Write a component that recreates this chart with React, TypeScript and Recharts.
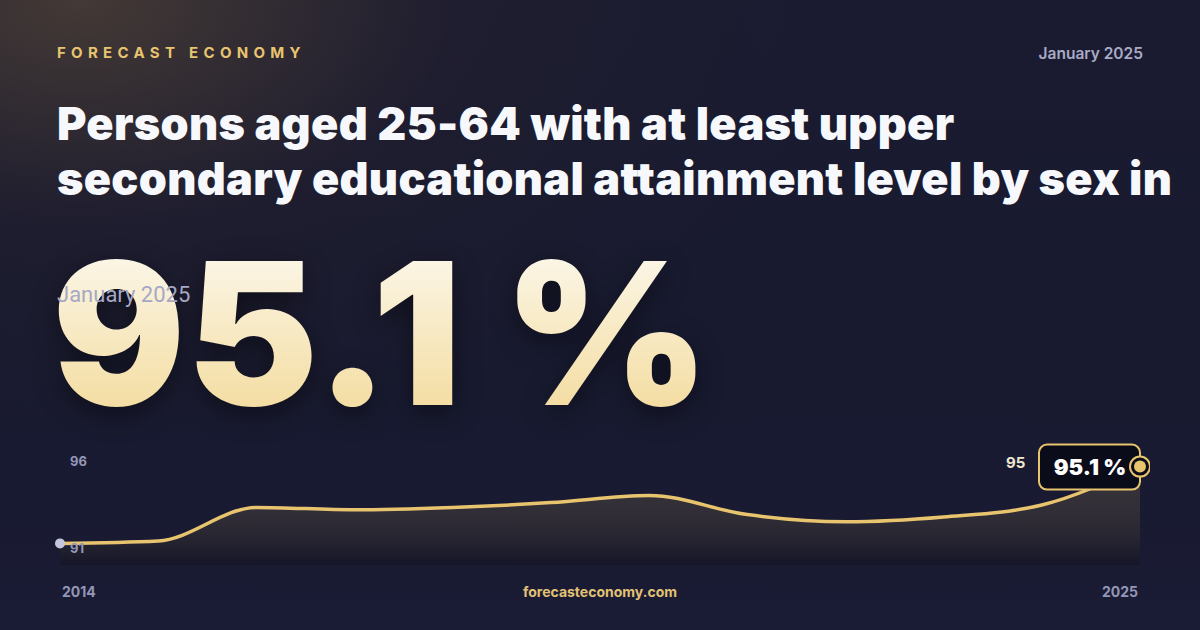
import React from 'react';
import { AreaChart, Area, XAxis, YAxis } from 'recharts';

const years = ['2014', '2015', '2016', '2017', '2018', '2019', '2020', '2021', '2022', '2023', '2024', '2025'];
const values = [91.9, 92.0, 93.4, 93.3, 93.4, 93.6, 93.9, 93.1, 92.8, 93.0, 93.5, 95.1];
const yDomain = [91, 96];
const yTickLabels = ['96', '91'];

const data = years.map((year, i) => ({ year, value: values[i] }));

const GOLD = '#e8c46f';
const MUTED = '#9597b6';

const renderDot = (props: any) => {
  const { cx, cy, index } = props;
  if (index === 0) {
    return <circle key="first" cx={cx} cy={cy} r={5} fill="#c3c6dd" />;
  }
  if (index === data.length - 1) {
    return (
      <g key="last">
        <rect x={cx - 101} y={cy - 22} width={101} height={45} rx={8} fill="#0a0c19" stroke={GOLD} strokeWidth={2} />
        <text x={cx - 50} y={cy + 8} textAnchor="middle" fill="#ffffff" fontSize={22} fontWeight={900} fontFamily="Inter">
          {values[values.length - 1].toFixed(1)} %
        </text>
        <circle cx={cx} cy={cy} r={10} fill="#0a0c19" stroke={GOLD} strokeWidth={2} />
        <circle cx={cx} cy={cy} r={6} fill={GOLD} />
      </g>
    );
  }
  return <g key={`d${index}`} />;
};

export default function App() {
  return (
    <div
      style={{
        position: 'absolute',
        left: 0,
        top: 0,
        width: 1200,
        height: 630,
        overflow: 'hidden',
        fontFamily: 'Inter, sans-serif',
        background:
          'radial-gradient(ellipse 750px 450px at 80px 0px, rgba(85,70,55,0.7) 0%, rgba(40,34,44,0.35) 50%, rgba(24,25,46,0) 100%), linear-gradient(180deg, #1a1b31 0%, #181a30 60%, #1a1b34 100%)',
      }}
    >
      <div style={{ position: 'absolute', left: 57, top: 43, color: GOLD, fontSize: 15, fontWeight: 700, letterSpacing: 5.3 }}>
        FORECAST ECONOMY
      </div>
      <div style={{ position: 'absolute', right: 57, top: 44, color: '#a9abc6', fontSize: 15.5, fontWeight: 600 }}>
        January 2025
      </div>
      <div
        style={{
          position: 'absolute',
          left: 57,
          top: 96,
          width: 1140,
          color: '#f7f8fc',
          fontSize: 45,
          fontWeight: 900,
          lineHeight: '55px',
          letterSpacing: 0.3,
          whiteSpace: 'nowrap',
        }}
      >
        Persons aged 25-64 with at least upper
        <br />
        secondary educational attainment level by sex in
      </div>
      <div
        style={{
          position: 'absolute',
          left: 52,
          top: 218,
          fontSize: 198,
          fontWeight: 900,
          lineHeight: '230px',
          letterSpacing: 1,
          whiteSpace: 'nowrap',
          background: 'linear-gradient(180deg, #fdfcf8 0%, #f8ebc8 45%, #f2d792 100%)',
          WebkitBackgroundClip: 'text',
          backgroundClip: 'text',
          color: 'transparent',
          filter: 'drop-shadow(0px 8px 14px rgba(0,0,0,0.45))',
        }}
      >
        95.1 %
      </div>
      <div
        style={{
          position: 'absolute',
          left: 57,
          top: 282,
          color: '#a6a8c4',
          fontSize: 22,
          fontFamily: 'Roboto, sans-serif',
          letterSpacing: 0,
        }}
      >
        January 2025
      </div>

      <div style={{ position: 'absolute', left: 50, top: 435 }}>
        <AreaChart
          width={1100}
          height={140}
          data={data}
          margin={{ top: 10, right: 10, bottom: 10, left: 10 }}
          style={{ overflow: 'visible' }}
        >
          <defs>
            <linearGradient id="areaFill" x1="0" y1="0" x2="0" y2="1">
              <stop offset="0%" stopColor="#e8c46f" stopOpacity={0.22} />
              <stop offset="100%" stopColor="#0c0c14" stopOpacity={0.55} />
            </linearGradient>
          </defs>
          <XAxis dataKey="year" hide />
          <YAxis domain={yDomain} hide />
          <Area
            type="monotone"
            dataKey="value"
            stroke={GOLD}
            strokeWidth={3.5}
            fill="url(#areaFill)"
            dot={renderDot}
            activeDot={false}
            isAnimationActive={false}
          />
        </AreaChart>
      </div>

      <div style={{ position: 'absolute', left: 70, top: 453, color: MUTED, fontSize: 13, fontWeight: 700 }}>{yTickLabels[0]}</div>
      <div style={{ position: 'absolute', left: 70, top: 540, color: MUTED, fontSize: 13, fontWeight: 700 }}>{yTickLabels[1]}</div>
      <div style={{ position: 'absolute', left: 1006, top: 453, color: '#efe6d0', fontSize: 15, fontWeight: 700 }}>95</div>

      <div style={{ position: 'absolute', left: 62, top: 583, color: MUTED, fontSize: 14, fontWeight: 700 }}>{years[0]}</div>
      <div style={{ position: 'absolute', right: 62, top: 583, color: MUTED, fontSize: 14, fontWeight: 700 }}>
        {years[years.length - 1]}
      </div>
      <div
        style={{
          position: 'absolute',
          left: 0,
          width: 1200,
          top: 583,
          textAlign: 'center',
          color: '#e2c274',
          fontSize: 14,
          fontWeight: 700,
        }}
      >
        forecasteconomy.com
      </div>
    </div>
  );
}
